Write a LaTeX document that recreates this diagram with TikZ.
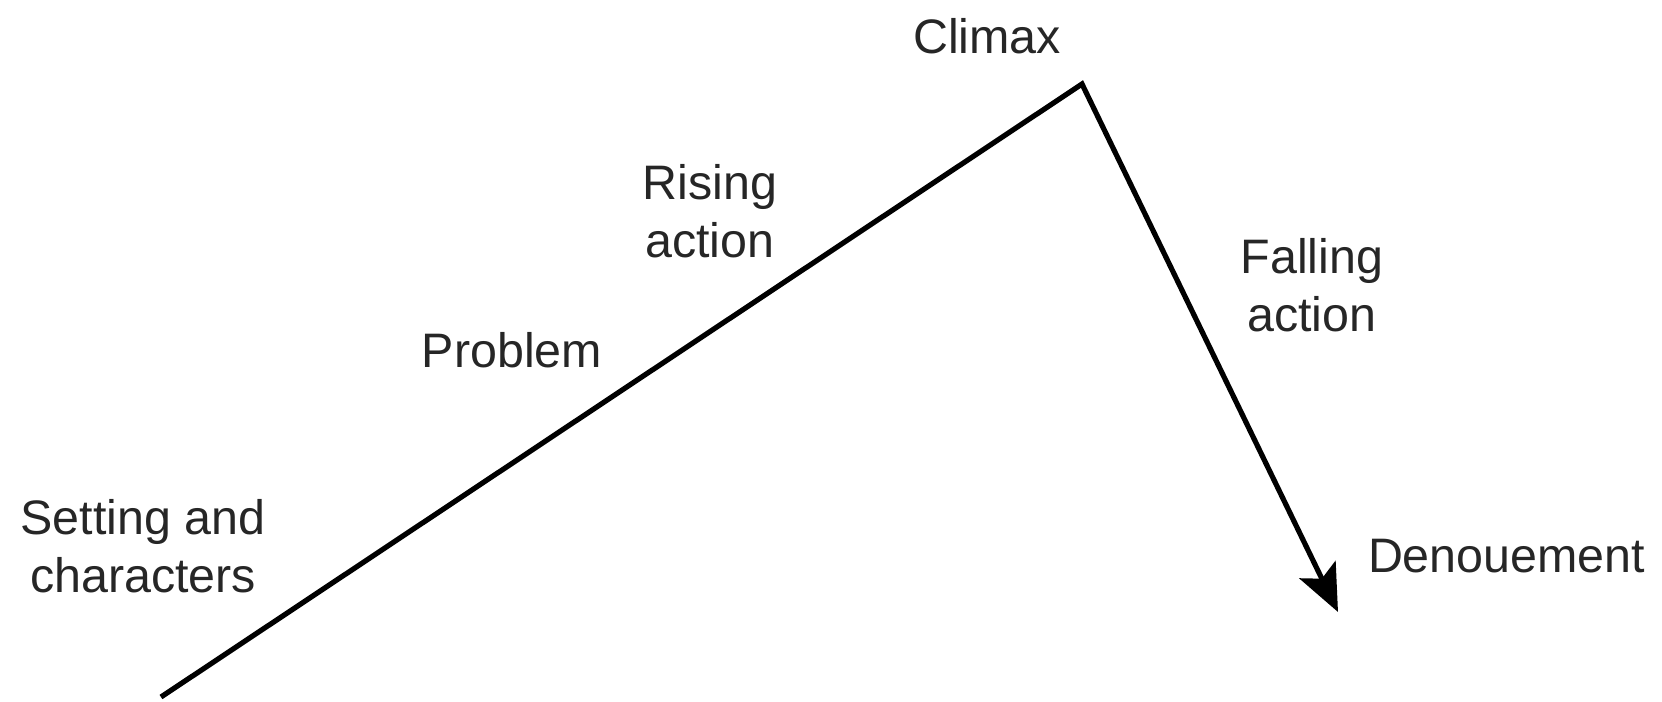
\documentclass[tikz,border=0pt]{standalone}
\usepackage{fontspec}
\setmainfont{Liberation Sans}
\usetikzlibrary{arrows.meta}
\tikzset{
  lbl/.style={inner sep=0pt, outer sep=0pt, text=black!85, align=center,
    font=\fontsize{24.2pt}{29pt}\selectfont, anchor=base},
  plot/.style={line width=2.6pt, line join=miter, black}
}
\begin{document}
\begin{tikzpicture}[x=0.5pt,y=-0.5pt]
  \useasboundingbox (0,0) rectangle (1662,702);
  \coordinate (start) at (161,697);
  \coordinate (peak) at (1082,84);
  \coordinate (end) at (1338,612);
  \draw[plot, -{Stealth[length=23.5pt, width=20pt, inset=5pt]}] (start) -- (peak) -- (end);
  \node[lbl] (climax) at (987,53) {Climax};
  \node[lbl] (rising) at (710,257) {Rising\\action};
  \node[lbl] (problem) at (512,367) {Problem};
  \node[lbl] (falling) at (1312,331) {Falling\\action};
  \node[lbl] (setting) at (143,592) {Setting and\\characters};
  \node[lbl, anchor=base west] (denoue) at (1368,572) {Denouement};
\end{tikzpicture}
\end{document}
